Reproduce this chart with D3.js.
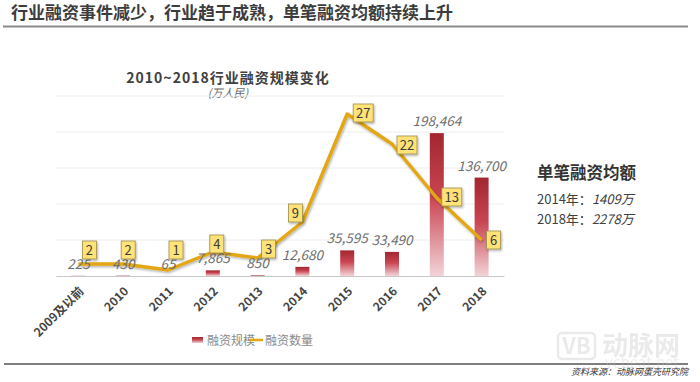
<!DOCTYPE html>
<html><head><meta charset="utf-8">
<script src="https://cdn.jsdelivr.net/npm/d3@7"></script>
<style>
html,body{margin:0;padding:0;background:#fff;}
svg{display:block;}
text{font-family:"Noto Sans CJK SC","Noto Sans",sans-serif;}
</style></head>
<body>
<svg id="c" width="700" height="382"></svg>
<script>
const categories = ["2009及以前","2010","2011","2012","2013","2014","2015","2016","2017","2018"];
const amounts = [225, 430, 65, 7865, 850, 12680, 35595, 33490, 198464, 136700];
const counts = [2, 2, 1, 4, 3, 9, 27, 22, 13, 6];
const amountTicks = [0, 50000, 100000, 150000, 200000, 250000];
const pageTitle = "行业融资事件减少，行业趋于成熟，单笔融资均额持续上升";
const chartTitle = "2010~2018行业融资规模变化";
const unitLabel = "(万人民)";
const legendLabels = ["融资规模", "融资数量"];
const sideTitle = "单笔融资均额";
const sideYears = ["2014年：", "2018年："];
const sideValues = ["1409万", "2278万"];
const sourceText = "资料来源：动脉网蛋壳研究院";
// label box offsets (style)
const labelOffsets = [[11,-14],[5,-14],[8,-20],[4,-8],[11,-9],[-7,-9],[16,-1],[15,1],[15,-1],[12,0]];

const svg = d3.select("#c");
const defs = svg.append("defs");
const grad = defs.append("linearGradient").attr("id","barGrad").attr("x1",0).attr("y1",0).attr("x2",0).attr("y2",1);
grad.append("stop").attr("offset","0%").attr("stop-color","#a22630");
grad.append("stop").attr("offset","45%").attr("stop-color","#c94552");
grad.append("stop").attr("offset","100%").attr("stop-color","#f2d4d8");
const sh = defs.append("filter").attr("id","sh").attr("x","-20%").attr("y","-20%").attr("width","140%").attr("height","140%");
sh.append("feDropShadow").attr("dx",1).attr("dy",1.5).attr("stdDeviation",1.2).attr("flood-color","#000").attr("flood-opacity",0.3);

// header
svg.append("text").attr("x",11).attr("y",19).attr("font-size",17).attr("font-weight","bold").attr("fill","#3c3c3c").text(pageTitle);
svg.append("line").attr("x1",3).attr("x2",688).attr("y1",26.5).attr("y2",26.5).attr("stroke","#8a8a8a").attr("stroke-width",2);

// footer
svg.append("line").attr("x1",4).attr("x2",688).attr("y1",364).attr("y2",364).attr("stroke","#555").attr("stroke-width",1.5);

// watermark
const wm = svg.append("g").attr("opacity",0.3);
wm.append("rect").attr("x",558).attr("y",333).attr("width",37).attr("height",26).attr("rx",4).attr("fill","none").attr("stroke","#bdbdbd").attr("stroke-width",2.5);
wm.append("text").attr("x",576.5).attr("y",354).attr("text-anchor","middle").attr("font-size",22).attr("font-weight","bold").attr("fill","#bdbdbd").attr("font-family","Liberation Sans").text("VB");
wm.append("text").attr("x",602).attr("y",355).attr("font-size",26).attr("font-weight","bold").attr("fill","#bdbdbd").text("动脉网");
wm.append("text").attr("x",605).attr("y",368).attr("font-size",15).attr("fill","#c8c8c8").attr("font-family","Liberation Sans").text("vcbeat.net");

svg.append("text").attr("x",688).attr("y",375).attr("text-anchor","end").attr("font-size",9).attr("font-style","italic").attr("fill","#333").text(sourceText);

// chart titles
svg.append("text").attr("x",228).attr("y",83).attr("text-anchor","middle").attr("font-size",14).attr("font-weight","bold").attr("letter-spacing",1).attr("fill","#404040").text(chartTitle);
svg.append("text").attr("x",228).attr("y",97).attr("text-anchor","middle").attr("font-size",11).attr("font-style","italic").attr("fill","#666").text(unitLabel);

// scales
const x = d3.scaleBand().domain(categories).range([56, 504]).paddingInner(0).paddingOuter(0);
const y = d3.scaleLinear().domain([0, 250000]).range([276, 96]);
const y2 = d3.scaleLinear().domain([0, 30]).range([276, 96]);
const cx = d => x(d) + x.bandwidth()/2;

// gridlines
svg.append("g").selectAll("line").data(amountTicks.slice(1)).join("line")
  .attr("x1",56).attr("x2",504).attr("y1",d=>y(d)).attr("y2",d=>y(d))
  .attr("stroke","#eeeeee").attr("stroke-width",1);

// bars
const bw = 14;
svg.append("g").selectAll("rect").data(amounts).join("rect")
  .attr("x",(d,i)=>cx(categories[i]) - bw/2)
  .attr("y",d=>y(d)).attr("width",bw).attr("height",d=>y(0)-y(d))
  .attr("fill","url(#barGrad)");

// baseline axis
const xAxis = d3.axisBottom(x).tickSize(0).tickFormat("");
const gx = svg.append("g").attr("transform","translate(0,276)").call(xAxis);
gx.select(".domain").attr("stroke","#c8c8c8").attr("stroke-width",1);

// x labels
svg.append("g").selectAll("text").data(categories).join("text")
  .attr("transform",d=>`translate(${cx(d)+3},289) rotate(-45)`)
  .attr("text-anchor","end").attr("dy","0.35em")
  .attr("font-size",12).attr("font-weight","bold").attr("fill","#454545")
  .text(d=>d);

// line
const line = d3.line().x((d,i)=>cx(categories[i])).y(d=>y2(d));
svg.append("path").datum(counts).attr("d",line).attr("fill","none")
  .attr("stroke","#e3a715").attr("stroke-width",3.5).attr("stroke-linejoin","round")
  .attr("filter","url(#sh)");

// bar value labels (drawn over the line)
svg.append("g").selectAll("text").data(amounts).join("text")
  .attr("x",(d,i)=>cx(categories[i])).attr("y",d=>y(d)-7)
  .attr("text-anchor","middle").attr("font-family","Open Sans").attr("font-style","italic")
  .attr("font-size",13.5).attr("fill","#6e6e6e")
  .text(d=>d3.format(",")(d));

// count label boxes
const lg = svg.append("g").selectAll("g").data(counts).join("g")
  .attr("transform",(d,i)=>`translate(${cx(categories[i])+labelOffsets[i][0]},${y2(d)+labelOffsets[i][1]})`);
lg.append("rect").attr("x",d=>String(d).length>1?-10:-7).attr("y",-9)
  .attr("width",d=>String(d).length>1?20:14).attr("height",18)
  .attr("fill","#ffe377").attr("stroke","#9c8c4c").attr("stroke-width",0.8)
  .attr("filter","url(#sh)");
lg.append("text").attr("text-anchor","middle").attr("dy","0.36em")
  .attr("font-family","Open Sans").attr("font-size",13).attr("fill","#3c3c3c")
  .text(d=>d);

// legend
svg.append("rect").attr("x",192).attr("y",337).attr("width",11).attr("height",6).attr("fill","url(#barGrad)");
svg.append("text").attr("x",207).attr("y",341).attr("dy","0.35em").attr("font-size",12).attr("fill","#8a8a8a").text(legendLabels[0]);
svg.append("line").attr("x1",250).attr("x2",263).attr("y1",340).attr("y2",340).attr("stroke","#e3a715").attr("stroke-width",2.5);
svg.append("text").attr("x",265).attr("y",341).attr("dy","0.35em").attr("font-size",12).attr("fill","#8a8a8a").text(legendLabels[1]);

// side annotation
svg.append("text").attr("x",537).attr("y",173).attr("dy","0.35em").attr("font-size",16.5).attr("font-weight","bold").attr("fill","#333").text(sideTitle);
sideYears.forEach((t,i)=>{
  const tt = svg.append("text").attr("x",537).attr("y",199+i*20).attr("dy","0.35em").attr("font-size",13).attr("fill","#404040");
  tt.append("tspan").text(t);
  tt.append("tspan").attr("font-style","italic").text(sideValues[i]);
});
</script>
</body></html>
